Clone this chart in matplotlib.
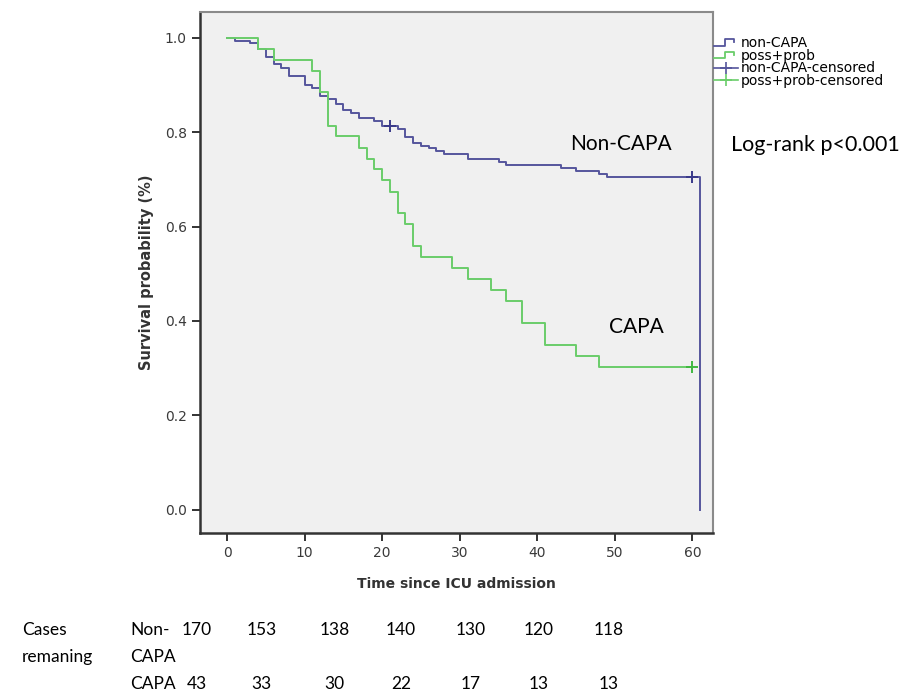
import matplotlib
matplotlib.use("Agg")
import matplotlib.pyplot as plt
from matplotlib.lines import Line2D
from matplotlib.legend_handler import HandlerBase

# Kaplan-Meier steps
noncapa_t = [0, 1, 3, 4, 5, 6, 7, 8, 10, 11, 12, 13, 14, 15, 16, 17, 19, 20,
             22, 23, 24, 25, 26, 27, 28, 31, 35, 36, 43, 45, 48, 49, 61]
noncapa_s = [1.0, 0.994, 0.988, 0.977, 0.959, 0.945, 0.936, 0.918, 0.900,
             0.894, 0.877, 0.871, 0.859, 0.847, 0.840, 0.830, 0.823, 0.812,
             0.806, 0.789, 0.778, 0.771, 0.766, 0.760, 0.754, 0.742, 0.737,
             0.730, 0.724, 0.718, 0.712, 0.705, 0.0]
noncapa_cens_t = [21, 60]
noncapa_cens_s = [0.812, 0.705]

capa_t = [0, 4, 6, 11, 12, 13, 14, 17, 18, 19, 20, 21, 22, 23, 24, 25, 29,
          31, 34, 36, 38, 41, 45, 48, 60]
capa_s = [1.0, 0.977, 0.953, 0.930, 0.884, 0.814, 0.791, 0.767, 0.744,
          0.721, 0.698, 0.674, 0.628, 0.605, 0.558, 0.535, 0.512, 0.488,
          0.465, 0.442, 0.395, 0.349, 0.326, 0.302, 0.302]
capa_cens_t = [60]
capa_cens_s = [0.302]

legend_labels = ["non-CAPA", "poss+prob", "non-CAPA-censored", "poss+prob-censored"]
xticks = [0, 10, 20, 30, 40, 50, 60]
yticks = [0.0, 0.2, 0.4, 0.6, 0.8, 1.0]

row_names = ["Non-", "CAPA", "CAPA"]
n_noncapa = [170, 153, 138, 140, 130, 120, 118]
n_capa = [43, 33, 30, 22, 17, 13, 13]

blue = "#55559c"
green = "#6acd6a"
calibri = ["Lato", "DejaVu Sans"]


class StepHandler(HandlerBase):
    def create_artists(self, legend, orig, xd, yd, w, h, fs, trans):
        x0 = -xd
        y0 = -yd
        xs = [x0, x0 + 0.45 * w, x0 + 0.45 * w, x0 + 0.85 * w, x0 + 0.85 * w]
        ys = [y0 + 0.1 * h, y0 + 0.1 * h, y0 + 0.8 * h, y0 + 0.8 * h, y0 + 0.5 * h]
        ln = Line2D(xs, ys, color=orig.get_color(), lw=1.3, transform=trans)
        return [ln]


fig = plt.figure(figsize=(9.17, 6.92), dpi=100)
ax = fig.add_axes([0.218, 0.230, 0.560, 0.753])
ax.set_facecolor("#f0f0f0")

l1, = ax.step(noncapa_t, noncapa_s, where="post", color=blue, lw=1.4)
l2, = ax.step(capa_t, capa_s, where="post", color=green, lw=1.4)
c1, = ax.plot(noncapa_cens_t, noncapa_cens_s, ls="none", marker="+", ms=9, mew=1.4, color="#3a3a8a")
c2, = ax.plot(capa_cens_t, capa_cens_s, ls="none", marker="+", ms=9, mew=1.4, color="#40b840")

ax.set_xlim(-3.5, 62.7)
ax.set_ylim(-0.049, 1.055)
ax.set_xticks(xticks)
ax.set_yticks(yticks)
ax.set_yticklabels([f"{v:.1f}" for v in yticks])
ax.tick_params(axis="both", direction="out", length=6, width=1.4, labelsize=10,
               colors="#333333", labelcolor="#3a3a3a")
for side in ["left", "bottom"]:
    ax.spines[side].set_color("#333333")
    ax.spines[side].set_linewidth(1.8)
for side in ["top", "right"]:
    ax.spines[side].set_color("#8a8a8a")
    ax.spines[side].set_linewidth(1.5)

ax.set_ylabel("Survival probability (%)", fontsize=10.5, fontweight="bold", color="#333333", labelpad=8)
ax.set_xlabel("Time since ICU admission", fontsize=10, fontweight="bold", color="#333333", labelpad=12)

line_h1 = Line2D([], [], color=blue)
line_h2 = Line2D([], [], color=green)
cens_h1 = Line2D([], [], color=blue, marker="+", ms=9, mew=1.2, lw=1.2)
cens_h2 = Line2D([], [], color=green, marker="+", ms=9, mew=1.2, lw=1.2)
fig.legend([line_h1, line_h2, cens_h1, cens_h2], legend_labels,
           handler_map={line_h1: StepHandler(), line_h2: StepHandler()},
           loc="upper left", bbox_to_anchor=(0.779, 0.948), frameon=False,
           fontsize=10, handlelength=1.7, handleheight=0.6, handletextpad=0.2,
           labelspacing=-0.1, borderaxespad=0, borderpad=0)

ax.text(50.8, 0.775, "Non-CAPA", fontsize=15, family=calibri, ha="center", va="center")
ax.text(52.8, 0.388, "CAPA", fontsize=15, family=calibri, ha="center", va="center")
fig.text(0.889, 0.790, "Log-rank p<0.001", fontsize=15.5, family=calibri, ha="center", va="center")

# numbers at risk table under the chart
col_x = [0.215, 0.285, 0.365, 0.437, 0.513, 0.587, 0.664]
row_y = [0.0896, 0.0506, 0.0116]
fig.text(0.024, row_y[0], "Cases", fontsize=12.5, family=calibri, va="center")
fig.text(0.024, row_y[1], "remaning", fontsize=12.5, family=calibri, va="center")
for name, y in zip(row_names, row_y):
    fig.text(0.142, y, name, fontsize=12.5, family=calibri, va="center")
for x, a, b in zip(col_x, n_noncapa, n_capa):
    fig.text(x, row_y[0], str(a), fontsize=12.5, family=calibri, ha="center", va="center")
    fig.text(x, row_y[2], str(b), fontsize=12.5, family=calibri, ha="center", va="center")

fig.savefig("out.png", dpi=100)
